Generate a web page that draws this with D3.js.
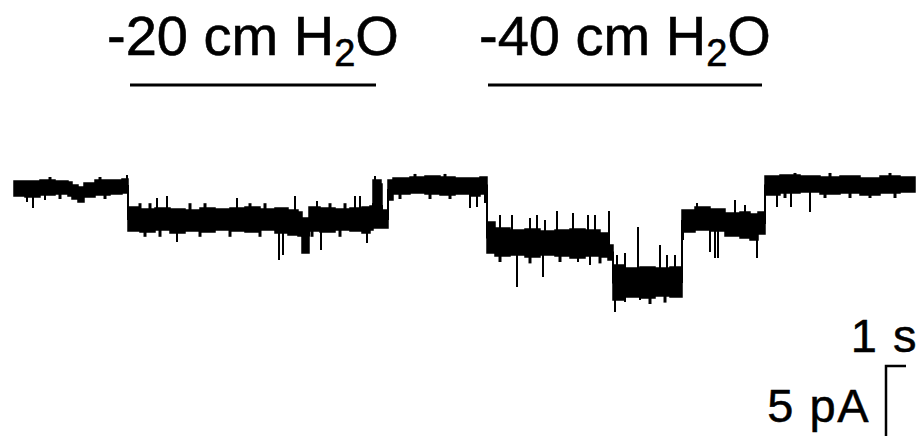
<!DOCTYPE html>
<html>
<head>
<meta charset="utf-8">
<script src="https://cdn.jsdelivr.net/npm/d3@7/dist/d3.min.js"></script>
<style>
  html, body { margin: 0; padding: 0; background: #fff; }
  svg { display: block; font-family: "Liberation Sans", Arial, Helvetica, sans-serif; }
  .label { font-size: 56px; fill: #000; stroke: #000; stroke-width: 0.6px; }
  .scale-label { font-size: 47px; letter-spacing: 1.5px; fill: #000; stroke: #000; stroke-width: 0.5px; }
</style>
</head>
<body>
<svg id="chart" width="918" height="436"></svg>
<script>
// pressure steps applied to the patch (time in s)
const pressureSteps = [
  {value: -20, start: 5.8, end: 18.1},
  {value: -40, start: 23.7, end: 37.4}
];

// noise band of the current trace: [time s, upper edge pA, lower edge pA]
const traceBand = [
  [0, 0.29, -0.79], [0.55, 0.29, -0.86], [1.3, 0.36, -0.71], [2.05, 0.29, -0.64],
  [2.7, 0.21, -0.79], [2.9, 0.0, -1.0], [3.2, -0.14, -1.21], [3.5, 0.14, -0.86],
  [4.05, 0.36, -0.71], [4.8, 0.36, -0.64], [5.4, 0.43, -0.57],
  // -20 cm H2O
  [5.7, -1.57, -3.29], [6.3, -1.71, -3.36], [7.05, -1.64, -3.21], [7.8, -1.71, -3.43],
  [8.55, -1.79, -3.29], [9.3, -1.64, -3.36], [10.05, -1.71, -3.21], [10.8, -1.64, -3.29],
  [11.55, -1.57, -3.36], [12.3, -1.71, -3.21], [13.05, -1.64, -3.43], [13.7, -1.79, -3.57],
  [14.2, -1.93, -3.64], [14.4, -2.36, -4.86], [14.75, -1.57, -3.29], [15.3, -1.64, -3.36],
  [16.05, -1.71, -3.21], [16.8, -1.64, -3.29], [17.4, -1.57, -3.43], [17.8, -1.5, -3.21],
  [17.95, 0.36, -3.07], [18.35, 0.07, -3.07], [18.4, -1.79, -3.07],
  // back to rest
  [18.7, 0.36, -1.07], [18.95, 0.5, -0.64], [19.8, 0.57, -0.57], [20.55, 0.64, -0.64],
  [21.3, 0.57, -0.71], [22.05, 0.5, -0.64], [22.8, 0.5, -0.79], [23.3, 0.57, -0.64],
  // -40 cm H2O
  [23.65, -2.64, -4.86], [24.05, -3.07, -5.07], [24.8, -3.21, -5.0], [25.55, -3.14, -5.14],
  [26.3, -3.29, -5.0], [27.05, -3.21, -5.07], [27.8, -3.14, -5.21], [28.55, -3.21, -5.07],
  [29.3, -3.43, -5.14], [29.7, -4.29, -5.36],
  [29.95, -5.71, -8.21], [30.55, -5.93, -8.0], [31.3, -5.86, -8.07], [32.05, -5.93, -7.93],
  [32.8, -5.86, -8.0],
  [33.4, -1.79, -3.36], [34.05, -1.57, -3.21], [34.8, -1.71, -3.29], [35.55, -2.0, -3.64],
  [36.3, -1.93, -3.79], [36.8, -2.07, -3.93], [37.2, -1.93, -3.5],
  // rest
  [37.55, 0.64, -0.71], [38.3, 0.71, -0.57], [39.3, 0.64, -0.5], [40.3, 0.57, -0.64],
  [41.3, 0.64, -0.57], [42.3, 0.5, -0.71], [43.3, 0.64, -0.57], [44.3, 0.57, -0.5],
  [45.05, 0.57, -0.5]
];

// brief openings / closings sticking out of the band: [time s, tip pA]
const traceSpikes = [
  [0.65, -1.21], [0.95, -1.64], [1.55, -1.07], [5.65, 0.71],
  [7.15, -0.93], [7.65, -0.79], [11.15, -0.93], [14.05, -0.79], [15.15, -1.14], [17.05, -0.79], [17.3, -0.79],
  [8.15, -4.07], [13.25, -5.36], [13.45, -5.0], [15.35, -4.64], [17.65, -4.14],
  [18.05, 0.64],
  [22.8, -1.64], [23.15, -1.57], [23.55, -1.29],
  [24.3, -2.14], [24.9, -2.14], [25.8, -2.36], [26.15, -2.14], [26.55, -2.5], [27.15, -1.86],
  [27.95, -2.0], [28.7, -2.14], [29.05, -2.14], [29.75, -1.86],
  [25.15, -7.29], [26.45, -6.57], [28.2, -5.5], [28.8, -5.71],
  [30.15, -5.0], [30.55, -4.86], [31.2, -3.0], [32.3, -4.29], [32.65, -5.0], [33.05, -5.0],
  [30.05, -9.07], [30.55, -8.36], [31.3, -8.21],
  [33.45, -3.93], [34.8, -4.79], [35.05, -5.21], [35.2, -5.21], [37.15, -5.21],
  [34.15, -1.29], [36.05, -1.07], [36.55, -1.43],
  [38.15, -1.57], [38.85, -1.57], [39.8, -1.93]
];

// short flicker on the band edges: [time s, tip pA]
const edgeNoise = [
  [1.8, 0.57], [4.3, 0.57], [2.3, -1.0], [4.55, -1.0],
  [6.3, -1.3], [6.8, -1.3], [8.8, -1.3], [9.55, -1.3], [11.8, -1.3], [12.55, -1.3], [15.8, -1.3], [16.55, -1.3],
  [6.55, -3.7], [7.3, -3.7], [9.3, -3.7], [10.8, -3.7], [12.3, -3.7], [14.9, -3.7], [16.3, -3.7],
  [19.3, -1.0], [20.8, -1.0], [21.8, -1.0], [20.05, 0.79], [21.55, 0.79],
  [24.3, -5.5], [25.8, -5.6], [27.3, -5.5], [29.3, -5.6],
  [31.8, -8.5], [32.55, -8.4],
  [38.55, -0.93], [40.55, -0.93], [41.8, -0.93], [42.8, -0.93], [44.05, -0.93],
  [39.05, 0.86], [40.8, 0.86], [43.8, 0.86]
];

// calibration bars
const scaleBarTime = 1;      // s
const scaleBarCurrent = 5;   // pA
const scaleBarOrigin = [43.6, -12.93];

const svg = d3.select('#chart');

const x = d3.scaleLinear().domain([0, 45]).range([14, 914]);
const y = d3.scaleLinear().domain([0, -5]).range([185, 255]);

// trace band
const band = d3.area()
  .x(d => x(d[0]))
  .y0(d => y(d[1]))
  .y1(d => y(d[2]))
  .curve(d3.curveStepAfter);

svg.append('path')
  .datum(traceBand)
  .attr('d', band)
  .attr('fill', '#000')
  .attr('stroke', '#000')
  .attr('stroke-width', 1.5);

// connector through the band so the level transitions are drawn
svg.append('path')
  .datum(traceBand)
  .attr('d', d3.line().x(d => x(d[0])).y(d => y((d[1] + d[2]) / 2)).curve(d3.curveStepAfter))
  .attr('fill', 'none')
  .attr('stroke', '#000')
  .attr('stroke-width', 2);

const bisect = d3.bisector(d => d[0]).right;
function bandAt(t){
  return traceBand[Math.max(0, bisect(traceBand, t) - 1)];
}

function drawSpikes(data, width){
  svg.append('g').selectAll('line')
    .data(data).join('line')
    .attr('x1', d => x(d[0])).attr('x2', d => x(d[0]))
    .attr('y1', d => { const b = bandAt(d[0]); return y((b[1] + b[2]) / 2); })
    .attr('y2', d => y(d[1]))
    .attr('stroke', '#000')
    .attr('stroke-width', width);
}
drawSpikes(traceSpikes, 2);
drawSpikes(edgeNoise, 3);

// pressure labels with bars
const steps = svg.append('g').selectAll('g')
  .data(pressureSteps).join('g');

steps.append('line')
  .attr('x1', d => x(d.start)).attr('x2', d => x(d.end))
  .attr('y1', 85).attr('y2', 85)
  .attr('stroke', '#000')
  .attr('stroke-width', 3);

const lab = steps.append('text')
  .attr('class', 'label')
  .attr('x', d => (x(d.start) + x(d.end)) / 2)
  .attr('y', 55)
  .attr('text-anchor', 'middle');
lab.append('tspan').text(d => `${d.value} cm H`);
lab.append('tspan').attr('font-size', 38).attr('dy', 11).text('2');
lab.append('tspan').attr('dy', -11).text('O');

// scale bar
const [sx, sy] = scaleBarOrigin;
svg.append('path')
  .attr('d', `M${x(sx + scaleBarTime)},${y(sy)}H${x(sx)}V${y(sy - scaleBarCurrent)}`)
  .attr('fill', 'none')
  .attr('stroke', '#000')
  .attr('stroke-width', 2.5);

svg.append('text')
  .attr('class', 'scale-label')
  .attr('x', 918).attr('y', 352)
  .attr('text-anchor', 'end')
  .text(`${scaleBarTime} s`);

svg.append('text')
  .attr('class', 'scale-label')
  .attr('x', 870).attr('y', 422)
  .attr('text-anchor', 'end')
  .text(`${scaleBarCurrent} pA`);
</script>
</body>
</html>
